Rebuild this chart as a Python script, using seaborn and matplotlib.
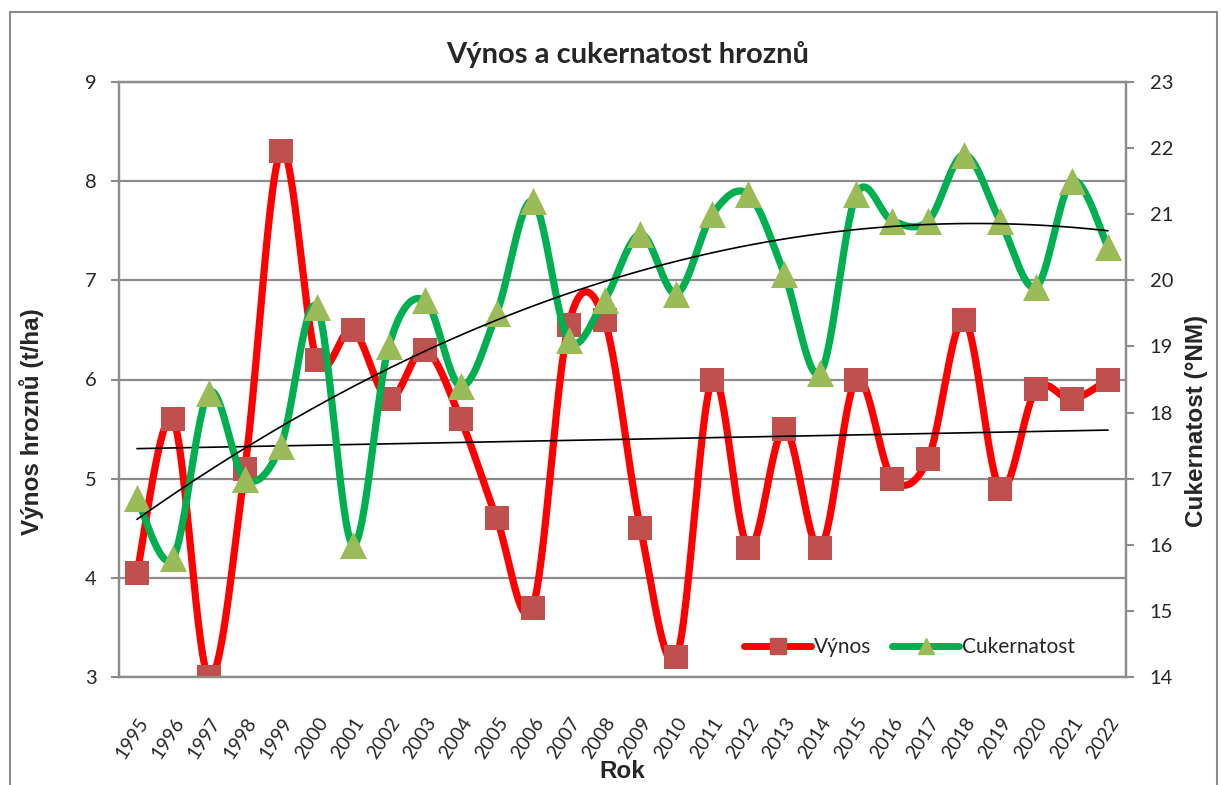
import numpy as np
import pandas as pd
import seaborn as sns
import matplotlib.pyplot as plt
from matplotlib.lines import Line2D
from matplotlib.patches import Rectangle

# data
roky = list(range(1995, 2023))
vynos = [4.05, 5.6, 3.0, 5.1, 8.3, 6.2, 6.5, 5.8, 6.3, 5.6,
         4.6, 3.7, 6.55, 6.6, 4.5, 3.2, 6.0, 4.3, 5.5, 4.3,
         6.0, 5.0, 5.2, 6.6, 4.9, 5.9, 5.8, 6.0]
cukernatost = [16.7, 15.8, 18.3, 17.0, 17.5, 19.6, 16.0, 19.0, 19.7, 18.4,
               19.5, 21.2, 19.1, 19.7, 20.7, 19.8, 21.0, 21.3, 20.1, 18.6,
               21.3, 20.9, 20.9, 21.9, 20.9, 19.9, 21.5, 20.5]
left_ticks = [3, 4, 5, 6, 7, 8, 9]
right_ticks = list(range(14, 24))


def smooth(x, y, n=30):
    # Excel-style smoothed line (Catmull-Rom bezier)
    x = np.asarray(x, float)
    y = np.asarray(y, float)
    px = np.r_[x[0], x, x[-1]]
    py = np.r_[y[0], y, y[-1]]
    t = np.linspace(0, 1, n, endpoint=False)[:, None]
    xs, ys = [], []
    for i in range(1, len(px) - 2):
        p0 = np.array([px[i], py[i]])
        p3 = np.array([px[i + 1], py[i + 1]])
        p1 = p0 + (np.array([px[i + 1], py[i + 1]]) - np.array([px[i - 1], py[i - 1]])) / 6
        p2 = p3 - (np.array([px[i + 2], py[i + 2]]) - np.array([px[i], py[i]])) / 6
        b = ((1 - t) ** 3) * p0 + 3 * ((1 - t) ** 2) * t * p1 + 3 * (1 - t) * t ** 2 * p2 + t ** 3 * p3
        xs.append(b[:, 0])
        ys.append(b[:, 1])
    xs.append([x[-1]])
    ys.append([y[-1]])
    return pd.DataFrame({"x": np.concatenate(xs), "y": np.concatenate(ys)})


df = pd.DataFrame({"Rok": roky, "Výnos": vynos, "Cukernatost": cukernatost})

sns.set_style("white")
plt.rcParams["font.family"] = ["Lato", "DejaVu Sans"]

RED, RED_M = "#FF0000", "#C0504D"
GREEN, GREEN_M = "#00B050", "#9BBB59"
GRID = "#8C8C8C"

fig = plt.figure(figsize=(12.21, 7.85), dpi=100)
ax = fig.add_axes([119 / 1221, 1 - 677 / 785, (1126 - 119) / 1221, (677 - 82) / 785])
ax2 = ax.twinx()

# outer chart border
fig.patches.append(Rectangle((10 / 1221, -0.05), 1207 / 1221, 1.05 - 12 / 785,
                             transform=fig.transFigure, fill=False,
                             edgecolor=GRID, lw=1.5))

# Výnos (left axis)
sv = smooth(df["Rok"], df["Výnos"])
sns.lineplot(data=sv, x="x", y="y", ax=ax, color=RED, lw=5.2, sort=False,
             estimator=None, zorder=3)
sns.scatterplot(data=df, x="Rok", y="Výnos", ax=ax, marker="s", s=300,
                color=RED_M, edgecolor=RED_M, linewidth=0, zorder=4)

# Cukernatost (right axis)
sc = smooth(df["Rok"], df["Cukernatost"])
sns.lineplot(data=sc, x="x", y="y", ax=ax2, color=GREEN, lw=5.2, sort=False,
             estimator=None, zorder=3)
sns.scatterplot(data=df, x="Rok", y="Cukernatost", ax=ax2, marker="^", s=380,
                color=GREEN_M, edgecolor=GREEN_M, linewidth=0, zorder=4)

# trend lines
idx = np.arange(len(roky))
k1 = np.polyfit(idx, vynos, 1)
tx = np.linspace(0, len(roky) - 1, 200)
ax.plot(np.array(roky[0]) + tx, np.polyval(k1, tx), color="black", lw=1.2, zorder=5)
k2 = np.polyfit(idx, cukernatost, 2)
ax2.plot(np.array(roky[0]) + tx, np.polyval(k2, tx), color="black", lw=1.2, zorder=5)

# axes styling
ax.set_xlim(roky[0] - 0.5, roky[-1] + 0.5)
ax.set_ylim(3, 9)
ax2.set_ylim(14, 23)
ax.set_yticks(left_ticks)
ax2.set_yticks(right_ticks)
ax.set_xticks(roky)
ax.set_xticklabels([str(r) for r in roky], rotation=57, ha="right",
                   rotation_mode="anchor", fontsize=14)
ax.tick_params(axis="x", length=0, pad=27)
ax.tick_params(axis="y", length=6, width=1.5, color=GRID, labelsize=14.5, pad=10)
ax2.tick_params(axis="y", length=6, width=1.5, color=GRID, labelsize=14.5, pad=11)
ax.yaxis.grid(True, color=GRID, lw=1.6)
ax.set_axisbelow(True)
for a in (ax, ax2):
    for sp in a.spines.values():
        sp.set_color(GRID)
        sp.set_linewidth(1.6)
ax2.patch.set_visible(False)

ax.set_xlabel("")
ax.set_ylabel("Výnos hroznů (t/ha)", fontsize=17.5, fontweight="bold",
              family="Liberation Sans")
ax.yaxis.set_label_coords(-0.0745, 0.43)
ax2.set_ylabel("Cukernatost (°NM)", fontsize=17.5, fontweight="bold",
               family="Liberation Sans")
ax2.yaxis.set_label_coords(1.0586, 0.43)
fig.text(628 / 1221, 1 - 63 / 785, "Výnos a cukernatost hroznů", ha="center",
         va="baseline", fontsize=21, fontweight="bold")
fig.text(622 / 1221, 1 - 783 / 785, "Rok", ha="center", va="bottom",
         fontsize=17.5, fontweight="bold", family="Liberation Sans")

handles = [
    Line2D([], [], color=RED, lw=5, marker="s", markersize=11,
           markerfacecolor=RED_M, markeredgecolor=RED_M),
    Line2D([], [], color=GREEN, lw=5, marker="^", markersize=11,
           markerfacecolor=GREEN_M, markeredgecolor=GREEN_M),
]
ax2.legend(handles, ["Výnos", "Cukernatost"], ncol=2, frameon=False,
           loc="center right", bbox_to_anchor=(0.968, 0.05), fontsize=15,
           handlelength=3.2, columnspacing=1.0, handletextpad=0.15)

fig.savefig("out.png", dpi=100)
